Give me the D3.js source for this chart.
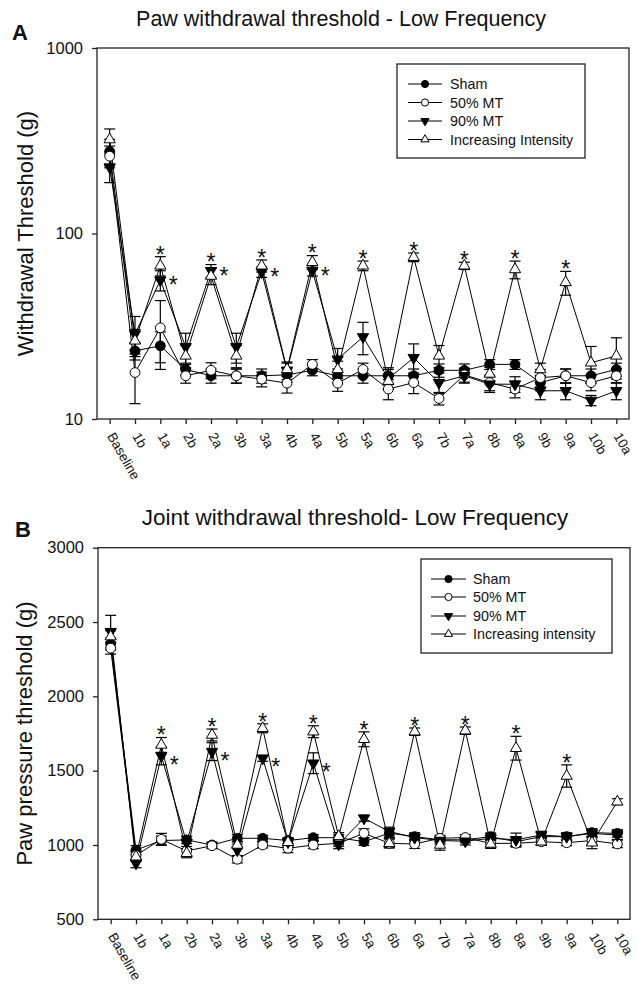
<!DOCTYPE html>
<html><head><meta charset="utf-8">
<script src="https://cdn.jsdelivr.net/npm/d3@7"></script>
<style>
body{margin:0;background:#fff}
svg{display:block}
text{font-family:"Liberation Sans",Arial,sans-serif;fill:#111}
</style>
</head><body>
<svg id="c" width="637" height="992"></svg>
<script>
// ---------------- DATA ----------------
const categories = ["Baseline","1b","1a","2b","2a","3b","3a","4b","4a","5b","5a","6b","6a","7b","7a","8b","8a","9b","9a","10b","10a"];
const legendNamesA = ["Sham","50% MT","90% MT","Increasing Intensity"];
const legendNamesB = ["Sham","50% MT","90% MT","Increasing intensity"];

// Panel A: paw withdrawal threshold (g), log scale
const pawSham  = [277,23.3,24.8,18.5,17.1,17.1,17.1,17.3,18.3,17.1,17.1,17.1,17.1,18.3,18.3,19.7,19.7,15.7,17.1,17.1,18.5];
const pawMT50  = [261,17.8,31,17.1,18.3,17.1,16.4,15.6,19.7,15.6,18.5,14.5,15.7,12.9,17.3,15.7,14.5,16.7,17.1,15.7,17.1];
const pawMT90  = [228,28.7,56,24.5,63,24.5,62,18.3,63,21,27.7,16.5,21.4,15.7,17.1,15.4,15.4,14.2,14.2,12.6,14.2];
const pawInc   = [321,26.4,67,21.9,59,21.9,67,18.5,70,18.5,67,16,74.5,21.9,67,17.5,64,18.5,54.5,20.1,21.9];
const pawShamErr = [45,2.5,4.7,1.2,1.5,1.5,1.5,1.5,1.2,1.5,1.5,1.8,1.5,1.5,1.5,1.2,1.2,1.5,1.5,1.5,1.5];
const pawMT50Err = [35,5.7,12.5,1.5,1.8,1.5,1.5,1.8,1.2,1.5,1.5,1.8,2,1,1.5,1.5,1.5,1.8,1.5,1.5,1.5];
const pawMT90Err = [40,7,7,4.5,5,4.5,4,2,4,3,5.5,2,4,2,1.5,1.5,1.5,1.5,1.5,0.8,1.5];
const pawIncErr  = [45,4,8,3,6,3,5,1.5,6,2,4,1.5,4,3,3,1.5,7,1.5,8,4.5,5.5];
const pawTicks = [10,100,1000];

// Panel B: joint (paw pressure) threshold (g), linear scale
const jointSham = [2353,966,1030,1034,1000,1045,1045,1030,1049,1049,1022,1080,1056,1035,1035,1056,1022,1056,1056,1083,1078];
const jointMT50 = [2324,930,1038,960,995,904,1000,978,1000,1011,1079,1011,1007,1045,1050,1011,1011,1022,1015,1030,1007];
const jointMT90 = [2435,877,1599,1016,1628,966,1583,1020,1550,1005,1180,1090,1050,1030,1025,1045,1035,1067,1056,1078,1067];
const jointInc  = [2402,921,1673,944,1740,1000,1785,1018,1762,1058,1711,1011,1762,1000,1769,1007,1651,1022,1464,1015,1291];
const jointShamErr = [40,30,30,25,20,25,20,20,20,20,25,30,25,20,20,25,25,25,25,25,25];
const jointMT50Err = [40,30,40,30,20,25,20,30,25,20,30,30,30,20,20,25,25,25,20,25,25];
const jointMT90Err = [110,30,60,40,60,40,20,25,70,30,20,30,30,25,25,30,45,25,25,30,30];
const jointIncErr  = [40,30,50,30,40,25,30,25,40,25,50,30,25,35,25,30,80,25,75,40,20];
const jointTicks = [500,1000,1500,2000,2500,3000];

// significance markers (indices into categories)
const incStarIdx  = [2,4,6,8,10,12,14,16,18];
const mt90StarIdx = [2,4,6,8];

// ---------------- DRAW ----------------
const svg = d3.select("#c");
const markerTypes = ["filledCircle","openCircle","filledDown","openUp"];

function marker(g, type, x, y, r) {
  if (type === "filledCircle" || type === "openCircle") {
    g.append("circle").attr("cx", x).attr("cy", y).attr("r", r)
      .attr("fill", type === "filledCircle" ? "#000" : "#fff")
      .attr("stroke", "#000").attr("stroke-width", 1);
  } else {
    const s = r * 2.3; // side
    const h = s * Math.sqrt(3) / 2;
    let pts;
    if (type === "openUp") pts = [[x, y - h*2/3],[x + s/2, y + h/3],[x - s/2, y + h/3]];
    else pts = [[x, y + h*2/3],[x + s/2, y - h/3],[x - s/2, y - h/3]];
    g.append("path").attr("d", "M" + pts.map(p => p.join(",")).join("L") + "Z")
      .attr("fill", type === "filledDown" ? "#000" : "#fff")
      .attr("stroke", "#000").attr("stroke-width", 1);
  }
}

function panel(cfg) {
  const x = d3.scalePoint().domain(categories).range([cfg.left, cfg.right]).padding(0.5);
  const y = cfg.log
    ? d3.scaleLog().domain(cfg.domain).range([cfg.bottom, cfg.top])
    : d3.scaleLinear().domain(cfg.domain).range([cfg.bottom, cfg.top]);
  const g = svg.append("g");

  // title and letter
  g.append("text").attr("x", cfg.titleX).attr("y", cfg.titleY).attr("text-anchor", "middle")
    .attr("font-size", cfg.titleSize).text(cfg.title);
  g.append("text").attr("x", cfg.letterX).attr("y", cfg.letterY).attr("font-size", 22)
    .attr("font-weight", "bold").text(cfg.letter);

  // y axis
  const ya = g.append("g").attr("transform", `translate(${cfg.left},0)`)
    .call(d3.axisLeft(y).tickValues(cfg.ticks).tickFormat(d3.format("d"))
      .tickSize(5).tickPadding(9).tickSizeOuter(0));
  ya.select(".domain").remove();
  ya.selectAll("line").attr("stroke", "#222").attr("stroke-width", 1.3);
  ya.selectAll("text").attr("font-size", 16.5).attr("fill", "#111")
    .style("font-family", '"Liberation Sans",Arial,sans-serif');

  // x axis
  const xa = g.append("g").attr("transform", `translate(0,${cfg.bottom})`)
    .call(d3.axisBottom(x).tickSize(5).tickFormat("").tickSizeOuter(0));
  xa.select(".domain").remove();
  xa.selectAll("line").attr("stroke", "#222").attr("stroke-width", 1.3);
  g.append("g").selectAll("text").data(categories).join("text")
    .attr("transform", d => `translate(${x(d) - 3},${cfg.bottom + 17}) rotate(60)`)
    .attr("font-size", 13.5).text(d => d);

  // frame
  g.append("rect").attr("x", cfg.left).attr("y", cfg.top)
    .attr("width", cfg.right - cfg.left).attr("height", cfg.bottom - cfg.top)
    .attr("fill", "none").attr("stroke", "#222").attr("stroke-width", 1.3);

  // y label
  g.append("text").attr("transform", `translate(${cfg.ylabX},${(cfg.top + cfg.bottom) / 2}) rotate(-90)`)
    .attr("text-anchor", "middle").attr("font-size", 22).text(cfg.ylabel);

  const series = cfg.series;
  const line = d3.line().x((d, i) => x(categories[i])).y(d => y(d));
  // lines
  series.forEach(s => {
    g.append("path").attr("d", line(s.v)).attr("fill", "none")
      .attr("stroke", "#000").attr("stroke-width", 1);
  });
  // error bars
  const cap = 5.5;
  series.forEach(s => {
    s.v.forEach((v, i) => {
      const cx = x(categories[i]);
      const y1 = y(v + s.e[i]), y0 = y(Math.max(v - s.e[i], cfg.domain[0]));
      const eg = g.append("g").attr("stroke", "#000").attr("stroke-width", 1.2);
      eg.append("line").attr("x1", cx).attr("x2", cx).attr("y1", y0).attr("y2", y1);
      eg.append("line").attr("x1", cx - cap).attr("x2", cx + cap).attr("y1", y1).attr("y2", y1);
      eg.append("line").attr("x1", cx - cap).attr("x2", cx + cap).attr("y1", y0).attr("y2", y0);
    });
  });
  // markers
  series.forEach((s, k) => {
    s.v.forEach((v, i) => marker(g, markerTypes[k], x(categories[i]), y(v), 4.9));
  });

  // stars
  const inc = series[3], m90 = series[2];
  const fs = 23, cOff = fs * 0.56;
  incStarIdx.forEach(i => {
    const top = Math.min(y(inc.v[i] + inc.e[i]), mt90StarIdx.includes(i) ? y(m90.v[i] + m90.e[i]) : 1e9);
    g.append("text").attr("x", x(categories[i])).attr("y", top - 7 + cOff)
      .attr("text-anchor", "middle").attr("font-size", fs).text("*");
  });
  mt90StarIdx.forEach(i => {
    g.append("text").attr("x", x(categories[i]) + 13).attr("y", y(m90.v[i]) + cfg.starDy + cOff)
      .attr("text-anchor", "middle").attr("font-size", fs).text("*");
  });

  // legend
  const L = cfg.legend;
  g.append("rect").attr("x", L.x).attr("y", L.y).attr("width", L.w).attr("height", L.h)
    .attr("fill", "#fff").attr("stroke", "#222").attr("stroke-width", 1.3);
  cfg.names.forEach((n, k) => {
    const ry = L.rows[k];
    g.append("line").attr("x1", L.x1).attr("x2", L.x2).attr("y1", ry).attr("y2", ry)
      .attr("stroke", "#000").attr("stroke-width", 1.1);
    marker(g, markerTypes[k], (L.x1 + L.x2) / 2, ry, 3.6);
    g.append("text").attr("x", L.tx).attr("y", ry).attr("dy", "0.35em")
      .attr("font-size", 14.3).text(n);
  });
}

panel({
  left: 97, right: 629, top: 48, bottom: 419, log: true, domain: [10, 1000], ticks: pawTicks,
  title: "Paw withdrawal threshold - Low Frequency", titleX: 341, titleY: 26, titleSize: 21.5,
  letter: "A", letterX: 12, letterY: 40,
  ylabel: "Withdrawal Threshold (g)", ylabX: 33, starDy: 0,
  names: legendNamesA,
  legend: {x: 397, y: 64, w: 188, h: 94, rows: [84, 102.5, 121, 139.5], x1: 408, x2: 442, tx: 450},
  series: [
    {v: pawSham, e: pawShamErr}, {v: pawMT50, e: pawMT50Err},
    {v: pawMT90, e: pawMT90Err}, {v: pawInc, e: pawIncErr}
  ]
});

panel({
  left: 98, right: 630, top: 547.7, bottom: 919.3, log: false, domain: [500, 3000], ticks: jointTicks,
  title: "Joint withdrawal threshold- Low Frequency", titleX: 355, titleY: 525, titleSize: 22.5,
  letter: "B", letterX: 15, letterY: 537,
  ylabel: "Paw pressure threshold (g)", ylabX: 32, starDy: 4,
  names: legendNamesB,
  legend: {x: 421, y: 559, w: 191, h: 94, rows: [579, 597, 616, 634], x1: 431, x2: 466, tx: 473},
  series: [
    {v: jointSham, e: jointShamErr}, {v: jointMT50, e: jointMT50Err},
    {v: jointMT90, e: jointMT90Err}, {v: jointInc, e: jointIncErr}
  ]
});
</script>
</body></html>
